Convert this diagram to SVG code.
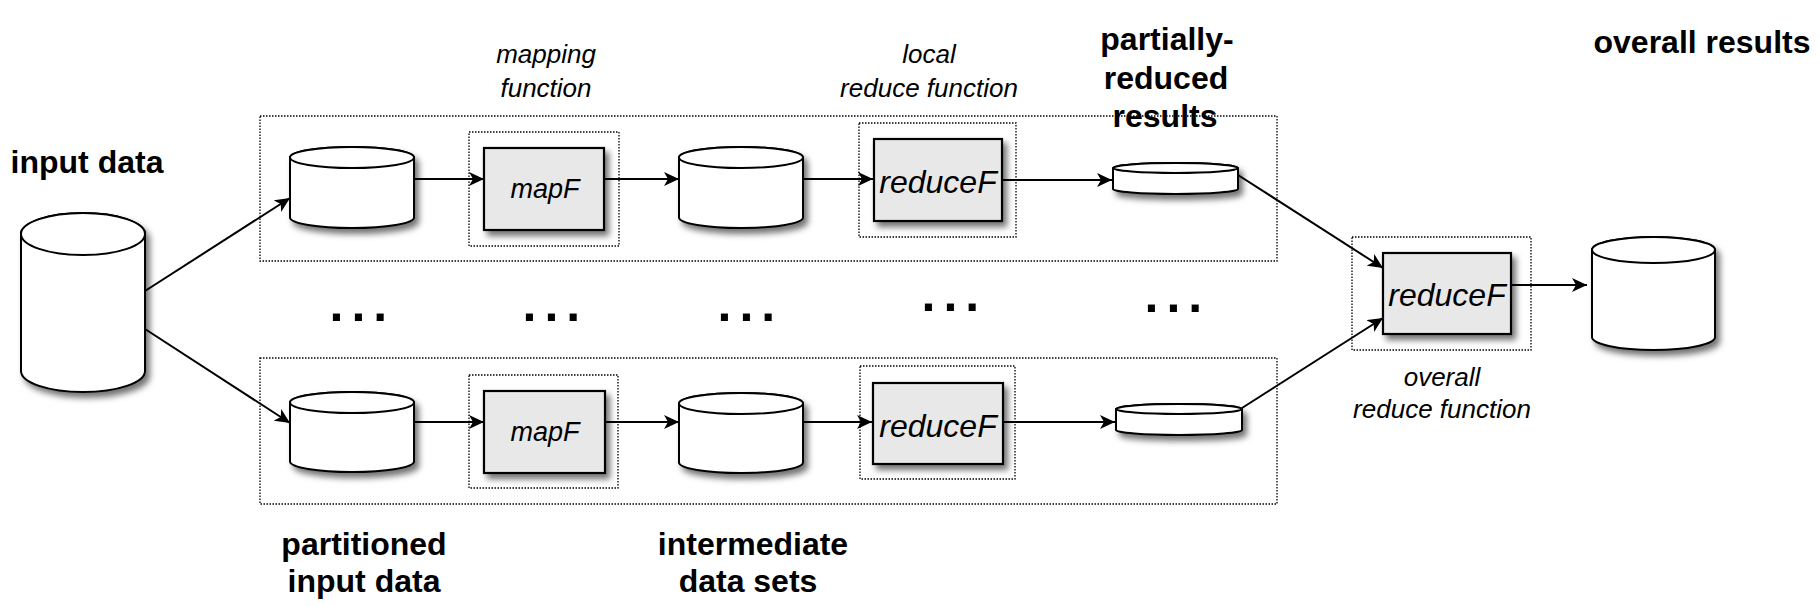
<svg xmlns="http://www.w3.org/2000/svg" width="1820" height="606" viewBox="0 0 1820 606">
<defs>
<filter id="sh" x="-20%" y="-20%" width="150%" height="160%">
<feDropShadow dx="4" dy="5" stdDeviation="3" flood-color="#000" flood-opacity="0.55"/>
</filter>
<marker id="ah" markerUnits="userSpaceOnUse" markerWidth="16" markerHeight="14" refX="15" refY="7" orient="auto">
<path d="M0,0 L15,7 L0,14 L4,7 Z" fill="#000"/>
</marker>
</defs>
<style>
.cyl{fill:#fff;stroke:#000;stroke-width:2}
.box{fill:#e8e8e8;stroke:#000;stroke-width:2.2}
.dot{fill:none;stroke:#000;stroke-width:1.3;stroke-dasharray:1.5 1.5}
.ln{fill:none;stroke:#000;stroke-width:2}
.arr{fill:none;stroke:#000;stroke-width:2;marker-end:url(#ah)}
.bold{font-family:"Liberation Sans",Arial,sans-serif;font-weight:bold;font-size:32px;fill:#000;text-anchor:middle}
.it{font-family:"Liberation Sans",Arial,sans-serif;font-style:italic;font-size:26px;fill:#000;text-anchor:middle}
.fn{font-family:"Liberation Sans",Arial,sans-serif;font-style:italic;fill:#000;text-anchor:middle}
.dots{font-family:"Liberation Sans",Arial,sans-serif;font-weight:bold;font-size:50px;letter-spacing:8px;fill:#000}
</style>

<!-- dotted containers -->
<g id="containers">
<rect class="dot" x="260" y="116" width="1017" height="145"/>
<rect class="dot" x="260" y="358" width="1017" height="146"/>
<rect class="dot" x="469" y="132" width="150" height="114"/>
<rect class="dot" x="469" y="375" width="149" height="113"/>
<rect class="dot" x="859" y="123" width="157" height="114"/>
<rect class="dot" x="860" y="366" width="155" height="113"/>
<rect class="dot" x="1352" y="237" width="179" height="113"/>
</g>

<!-- connectors -->
<g id="connectors">
<line class="arr" x1="145" y1="291" x2="290" y2="198"/>
<line class="arr" x1="145" y1="329" x2="290" y2="423"/>
<line class="arr" x1="414" y1="179" x2="484" y2="179"/>
<line class="arr" x1="604" y1="179" x2="679" y2="179"/>
<line class="arr" x1="803" y1="179" x2="873" y2="179"/>
<line class="arr" x1="1002" y1="180" x2="1112" y2="180"/>
<line class="arr" x1="414" y1="422" x2="484" y2="422"/>
<line class="arr" x1="605" y1="422" x2="679" y2="422"/>
<line class="arr" x1="803" y1="422" x2="872" y2="422"/>
<line class="arr" x1="1003" y1="422" x2="1115" y2="422"/>
<line class="arr" x1="1238" y1="175" x2="1383" y2="268"/>
<line class="arr" x1="1242" y1="408" x2="1383" y2="318"/>
<line class="arr" x1="1511" y1="285" x2="1587" y2="285"/>
</g>

<g id="input-data">
<path class="cyl" filter="url(#sh)" d="M21,234 A62,21 0 0 1 145,234 L145,371 A62,21 0 0 1 21,371 Z"/>
<ellipse class="cyl" cx="83" cy="234" rx="62" ry="21"/>
<text class="bold" x="87" y="173">input data</text>
</g>

<g id="partition-1">
<path class="cyl" filter="url(#sh)" d="M290,157.5 A62,10.5 0 0 1 414,157.5 L414,217.5 A62,10.5 0 0 1 290,217.5 Z"/>
<ellipse class="cyl" cx="352" cy="157.5" rx="62" ry="10.5"/>
</g>
<g id="partition-2">
<path class="cyl" filter="url(#sh)" d="M290,402.5 A62,10.5 0 0 1 414,402.5 L414,461.5 A62,10.5 0 0 1 290,461.5 Z"/>
<ellipse class="cyl" cx="352" cy="402.5" rx="62" ry="10.5"/>
</g>

<g id="mapF-1">
<rect class="box" filter="url(#sh)" x="484" y="148" width="120" height="82"/>
<text class="fn" x="545" y="198" font-size="27">mapF</text>
</g>
<g id="mapF-2">
<rect class="box" filter="url(#sh)" x="484" y="391" width="121" height="82"/>
<text class="fn" x="545" y="441" font-size="27">mapF</text>
</g>

<g id="intermediate-1">
<path class="cyl" filter="url(#sh)" d="M679,157.5 A62,10.5 0 0 1 803,157.5 L803,217.5 A62,10.5 0 0 1 679,217.5 Z"/>
<ellipse class="cyl" cx="741" cy="157.5" rx="62" ry="10.5"/>
</g>
<g id="intermediate-2">
<path class="cyl" filter="url(#sh)" d="M679,403.5 A62,10.5 0 0 1 803,403.5 L803,462.5 A62,10.5 0 0 1 679,462.5 Z"/>
<ellipse class="cyl" cx="741" cy="403.5" rx="62" ry="10.5"/>
</g>

<g id="reduceF-1">
<rect class="box" filter="url(#sh)" x="874" y="139" width="128" height="82"/>
<text class="fn" x="938" y="193" font-size="32">reduceF</text>
</g>
<g id="reduceF-2">
<rect class="box" filter="url(#sh)" x="873" y="383" width="130" height="81"/>
<text class="fn" x="938" y="437" font-size="32">reduceF</text>
</g>

<g id="partial-1">
<path class="cyl" filter="url(#sh)" d="M1113,168 A62.5,5 0 0 1 1238,168 L1238,189 A62.5,5 0 0 1 1113,189 Z"/>
<ellipse class="cyl" cx="1175.5" cy="168" rx="62.5" ry="5"/>
</g>
<g id="partial-2">
<path class="cyl" filter="url(#sh)" d="M1116,409 A63,5 0 0 1 1242,409 L1242,430 A63,5 0 0 1 1116,430 Z"/>
<ellipse class="cyl" cx="1179" cy="409" rx="63" ry="5"/>
</g>

<g id="overall-reduceF">
<rect class="box" filter="url(#sh)" x="1383" y="253" width="128" height="81"/>
<text class="fn" x="1447" y="306" font-size="32">reduceF</text>
</g>

<g id="overall-results">
<path class="cyl" filter="url(#sh)" d="M1592,250 A61.5,13 0 0 1 1715,250 L1715,337 A61.5,13 0 0 1 1592,337 Z"/>
<ellipse class="cyl" cx="1653.5" cy="250" rx="61.5" ry="13"/>
</g>

<g id="labels">
<text class="it" x="546" y="63">mapping</text>
<text class="it" x="546" y="97">function</text>
<text class="it" x="929" y="63">local</text>
<text class="it" x="929" y="97">reduce function</text>
<text class="bold" x="1167" y="50">partially-</text>
<text class="bold" x="1166" y="89">reduced</text>
<text class="bold" x="1165" y="127">results</text>
<text class="bold" x="1702" y="53">overall results</text>
<text class="it" x="1442" y="386">overall</text>
<text class="it" x="1442" y="418">reduce function</text>
<text class="bold" x="364" y="555">partitioned</text>
<text class="bold" x="364" y="592">input data</text>
<text class="bold" x="753" y="555">intermediate</text>
<text class="bold" x="748" y="592">data sets</text>
</g>

<g id="ellipses">
<text class="dots" x="329.5" y="321">...</text>
<text class="dots" x="522.5" y="321">...</text>
<text class="dots" x="717.5" y="321">...</text>
<text class="dots" x="921.5" y="311">...</text>
<text class="dots" x="1144.5" y="312">...</text>
</g>
</svg>
